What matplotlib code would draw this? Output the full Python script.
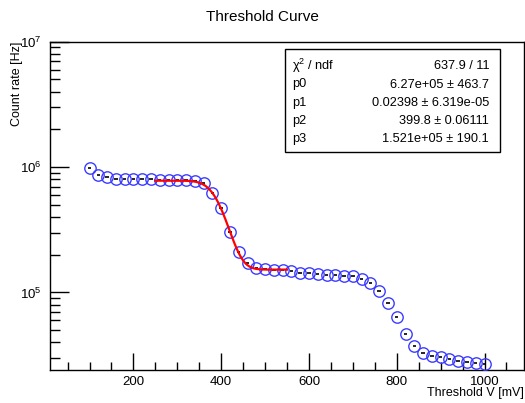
import math
import numpy as np
import matplotlib
matplotlib.use("Agg")
import matplotlib.pyplot as plt
from matplotlib.ticker import LogLocator, MultipleLocator, NullFormatter, FixedLocator

plt.rcParams['font.family'] = ['Liberation Sans', 'DejaVu Sans']
plt.rcParams['mathtext.fontset'] = 'custom'
plt.rcParams['mathtext.rm'] = 'Liberation Sans'
plt.rcParams['mathtext.it'] = 'Liberation Sans:italic'
plt.rcParams['mathtext.default'] = 'regular'

# threshold scan data
threshold = [100, 120, 140, 160, 180, 200, 220, 240, 260, 280, 300, 320, 340,
             360, 380, 400, 420, 440, 460, 480, 500, 520, 540,
             560, 580, 600, 620, 640, 660, 680, 700, 720, 740,
             760, 780, 800, 820, 840, 860, 880, 900, 920, 940,
             960, 980, 1000]
rate = [9.9e5, 8.6e5, 8.35e5, 8.1e5, 8.0e5, 8.0e5, 8.0e5, 7.98e5, 7.9e5, 7.9e5, 7.9e5, 7.88e5, 7.8e5,
        7.45e5, 6.2e5, 4.68e5, 3.05e5, 2.12e5, 1.72e5, 1.58e5, 1.54e5, 1.52e5, 1.50e5,
        1.47e5, 1.44e5, 1.42e5, 1.40e5, 1.39e5, 1.375e5, 1.365e5, 1.35e5, 1.28e5, 1.18e5,
        1.03e5, 8.3e4, 6.35e4, 4.67e4, 3.75e4, 3.32e4, 3.10e4, 3.03e4, 2.92e4, 2.83e4,
        2.79e4, 2.74e4, 2.71e4]

# fit parameters from the stat box
p0, p1, p2, p3 = 6.27e5, 0.02398, 399.8, 1.521e5
fit_range = (250, 550)

stat_names = [r'$\chi^{2}$ / ndf', 'p0', 'p1', 'p2', 'p3']
stat_values = ['637.9 / 11', '6.27e+05 ± 463.7', '0.02398 ± 6.319e-05',
               '399.8 ± 0.06111', '1.521e+05 ± 190.1']


def fit_func(x):
    return np.array([p3 + p0 / 2 * (1 - math.erf(p1 * (xi - p2))) for xi in x])


fig = plt.figure(figsize=(5.25, 4.03), dpi=100)
ax = fig.add_axes([50 / 525, 1 - 369.5 / 403, 474 / 525, (369.5 - 41.7) / 403])

ax.errorbar(threshold, rate, xerr=4, fmt='none', ecolor='black', elinewidth=1.2)
ax.plot(threshold, rate, 'o', mfc='none', mec='#3c3cff', ms=8.2, mew=1.0, zorder=3)

xf = np.linspace(fit_range[0], fit_range[1], 200)
ax.plot(xf, fit_func(xf), color='red', lw=1.6, zorder=4)

ax.set_yscale('log')
ax.set_xlim(10, 1090)
ax.set_ylim(2.43e4, 1e7)

ax.xaxis.set_major_locator(FixedLocator([200, 400, 600, 800, 1000]))
ax.xaxis.set_minor_locator(MultipleLocator(50))
ax.yaxis.set_major_locator(LogLocator(base=10, numticks=10))
ax.yaxis.set_minor_locator(LogLocator(base=10, subs=np.arange(2, 10), numticks=20))
ax.yaxis.set_minor_formatter(NullFormatter())

ax.tick_params(axis='both', which='both', direction='in', top=False, right=False,
               labelsize=9.5, width=1, colors='black')
ax.tick_params(axis='x', which='major', length=12, pad=5)
ax.tick_params(axis='x', which='minor', length=6)
ax.tick_params(axis='y', which='major', length=14, pad=6)
ax.tick_params(axis='y', which='minor', length=7)
for s in ax.spines.values():
    s.set_linewidth(1)

fig.text(262 / 525, 1 - 17 / 403, 'Threshold Curve', ha='center', va='center', fontsize=11)
fig.text(524 / 525, 1 - 393 / 403, 'Threshold V [mV]', ha='right', va='center', fontsize=9)
fig.text(17 / 525, 1 - 42 / 403, 'Count rate [Hz]', ha='center', va='top',
         rotation=90, fontsize=9)

# stat box
box = plt.Rectangle((285 / 525, 1 - 152 / 403), 215 / 525, 103 / 403,
                    transform=fig.transFigure, fill=True, facecolor='white',
                    edgecolor='black', lw=1, zorder=5)
fig.patches.append(box)
row_y = [66, 84.5, 103, 121, 139]
for name, val, yy in zip(stat_names, stat_values, row_y):
    fig.text(292 / 525, 1 - yy / 403, name, ha='left', va='center', fontsize=9.2, zorder=6)
    fig.text(489 / 525, 1 - yy / 403, val, ha='right', va='center', fontsize=9.2, zorder=6)

fig.savefig('out.png', dpi=100)
